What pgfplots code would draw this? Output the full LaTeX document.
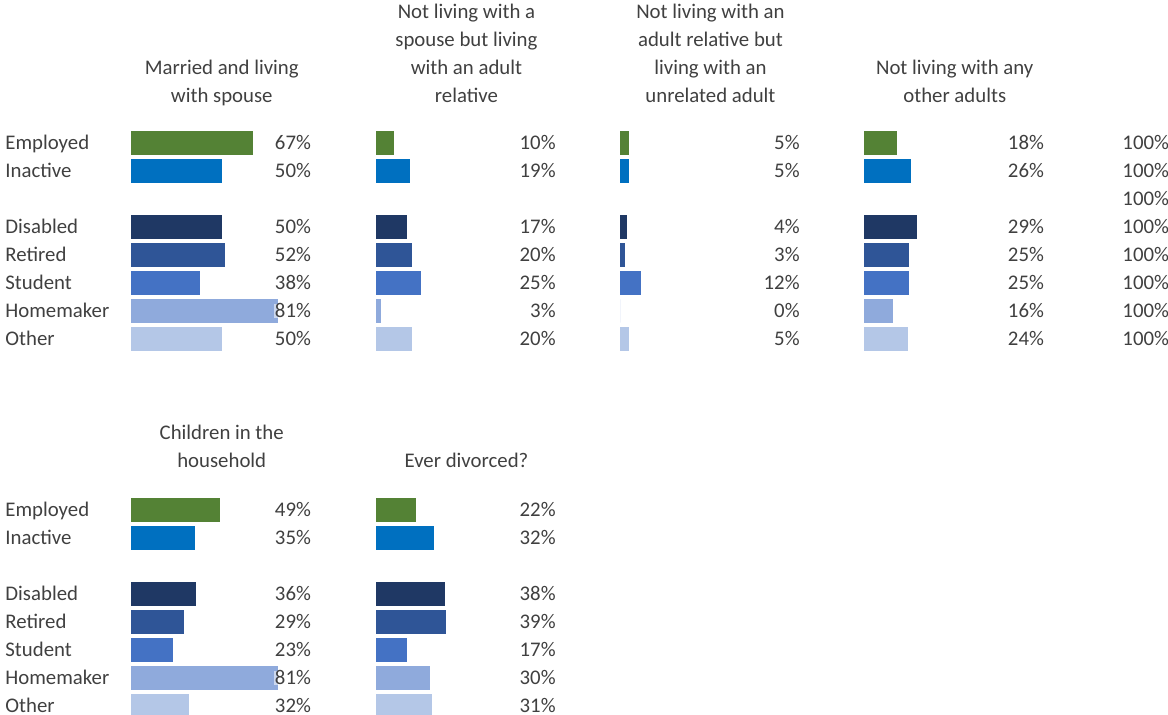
\documentclass[border=0pt]{standalone}
\usepackage{pgfplots}
\pgfplotsset{compat=1.18}
\usepackage{fontspec}
\setmainfont{Carlito}
\definecolor{txt}{HTML}{404040}
\definecolor{cEmp}{HTML}{548235}
\definecolor{cIna}{HTML}{0070C0}
\definecolor{cDis}{HTML}{1F3864}
\definecolor{cRet}{HTML}{2F5597}
\definecolor{cStu}{HTML}{4472C4}
\definecolor{cHom}{HTML}{8FAADC}
\definecolor{cOth}{HTML}{B4C7E7}
\newcommand\fnt{\fontsize{10.4}{14}\selectfont}
\pgfplotsset{
 panel/.style={scale only axis, width=90.75pt, height=112pt, xmin=0, xmax=100,
   ymin=-0.5, ymax=7.5, y dir=reverse, hide axis, clip=false, anchor=north west,
   title style={at={(0.5,1)}, anchor=south, yshift=2.85pt, align=center,
     inner sep=0pt, font=\fnt, text=txt}},
 bar/.style={xbar, bar width=11.6pt, bar shift=0pt, draw=none, fill=#1},
 pct/.style={draw=none, mark=none, point meta=explicit symbolic,
   nodes near coords={\pgfplotspointmeta\%},
   every node near coord/.append style={anchor=east, font=\fnt, text=txt,
     inner xsep=0.5pt, inner ysep=0.3pt, text height=6.8pt, text depth=0pt,
     fill=white, fill opacity=0.55, text opacity=1}},
 rowlbl/.style={draw=none, mark=none, point meta=explicit symbolic,
   nodes near coords={\pgfplotspointmeta},
   every node near coord/.append style={anchor=west, font=\fnt, text=txt,
     inner sep=0pt, text height=6.8pt, text depth=0pt}},
}
\newcommand\bars[7]{%
 \addplot[bar=cEmp] coordinates {(#1,0)};
 \addplot[bar=cIna] coordinates {(#2,1)};
 \addplot[bar=cDis] coordinates {(#3,3)};
 \addplot[bar=cRet] coordinates {(#4,4)};
 \addplot[bar=cStu] coordinates {(#5,5)};
 \addplot[bar=cHom] coordinates {(#6,6)};
 \addplot[bar=cOth] coordinates {(#7,7)};
 \addplot[pct] coordinates {(99.9,0)[#1] (99.9,1)[#2] (99.9,3)[#3] (99.9,4)[#4] (99.9,5)[#5] (99.9,6)[#6] (99.9,7)[#7]};
}
\newcommand\rowlabels{%
 \addplot[rowlbl] coordinates {(-69.4,0)[Employed] (-69.4,1)[Inactive] (-69.4,3)[Disabled] (-69.4,4)[Retired] (-69.4,5)[Student] (-69.4,6)[Homemaker] (-69.4,7)[Other]};
}
\begin{document}
\begin{tikzpicture}
\useasboundingbox (0,0) rectangle (584pt,357.5pt);
% top row
\begin{axis}[panel, at={(65.5pt,293pt)}, title={Married and living\\with spouse\strut}]
 \rowlabels
 \bars{67}{50}{50}{52}{38}{81}{50}
\end{axis}
\begin{axis}[panel, at={(187.85pt,293pt)}, title={Not living with a\\spouse but living\\with an adult\\relative\strut}]
 \bars{10}{19}{17}{20}{25}{3}{20}
\end{axis}
\begin{axis}[panel, at={(309.85pt,293pt)}, title={Not living with an\\adult relative but\\living with an\\unrelated adult\strut}]
 \bars{5}{5}{4}{3}{12}{0}{5}
\end{axis}
\begin{axis}[panel, at={(432pt,293pt)}, title={Not living with any\\other adults\strut}]
 \bars{18}{26}{29}{25}{25}{16}{24}
 \addplot[pct] coordinates {(168.8,0)[100] (168.8,1)[100] (168.8,2)[100] (168.8,3)[100] (168.8,4)[100] (168.8,5)[100] (168.8,6)[100] (168.8,7)[100]};
\end{axis}
% bottom row
\begin{axis}[panel, at={(65.5pt,109.5pt)}, title={Children in the\\household\strut}, title style={yshift=1pt}]
 \rowlabels
 \bars{49}{35}{36}{29}{23}{81}{32}
\end{axis}
\begin{axis}[panel, at={(187.85pt,109.5pt)}, title={Ever divorced?\strut}, title style={yshift=1pt}]
 \bars{22}{32}{38}{39}{17}{30}{31}
\end{axis}
\end{tikzpicture}
\end{document}
